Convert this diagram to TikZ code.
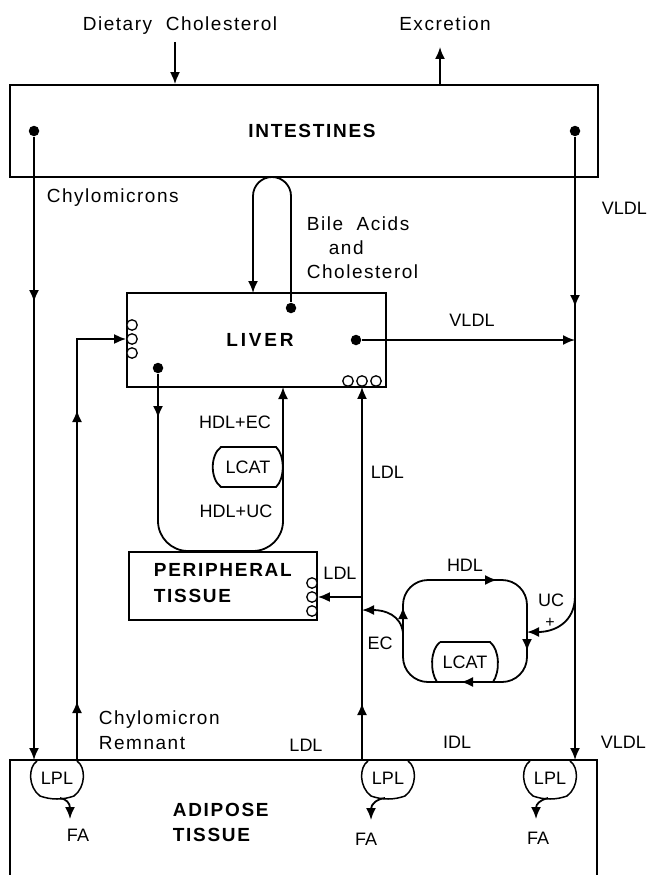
\documentclass[tikz,border=0pt]{standalone}
\usepackage{fontspec}
\setmainfont{Liberation Sans}
\usetikzlibrary{arrows.meta}
\begin{document}
\begin{tikzpicture}[x=1pt,y=-1pt,line width=1.8pt,
  lbl/.style={inner sep=0pt,text height=13.6pt,text depth=0pt,font=\fontsize{19}{22}\selectfont\addfontfeature{LetterSpace=8}},
  sml/.style={inner sep=0pt,text height=12.9pt,text depth=0pt,font=\fontsize{18}{21}\selectfont},
  bld/.style={inner sep=0pt,text height=13.6pt,text depth=0pt,font=\fontsize{19}{22}\selectfont\bfseries\addfontfeature{LetterSpace=9}},
  box/.style={draw,inner sep=0pt},
  dot/.style={circle,fill,inner sep=0pt,minimum size=10.5pt},
  ring/.style={circle,draw,fill=white,inner sep=0pt,minimum size=10.5pt,line width=1.3pt},
  tip/.style={-{Latex[length=12pt,width=10pt]}}]
\useasboundingbox (0,0) rectangle (648,875);
% top labels
\node[lbl] (diet) at (180,24) {Dietary\ \ Cholesterol};
\node[lbl] (excr) at (445,24) {Excretion};
\coordinate (dietS) at (175,42);
\coordinate (excrT) at (440,47);
% intestines
\node[box,minimum width=588pt,minimum height=92pt] (int) at (304,131) {};
\node[bld] (intl) at (312,131) {INTESTINES};
\draw[tip] (dietS) -- (dietS |- int.north);
\draw[tip] (excrT |- int.north) -- (excrT);
\node[dot] (dL) at (34,131) {};
\node[dot] (dR) at (575,131) {};
\coordinate (aL) at (34,760);
\coordinate (aR) at (575,760);
\draw[tip] (dL) -- (aL);
\draw[tip] (34,284) -- (34,302);
\draw[tip] (dR) -- (aR);
\draw[tip] (575,289) -- (575,307);
\node[lbl,anchor=west] (chy) at (46,196) {Chylomicrons};
\node[sml,anchor=west] (vl1) at (601,208) {VLDL};
% bile loop
\node[dot] (dB) at (291,308) {};
\coordinate (bT) at (253,293);
\draw[tip,rounded corners=19pt] (dB) -- (291,177) -- (253,177) -- (bT);
\node[lbl,anchor=west] (bile1) at (306,224) {Bile\ \ Acids};
\node[lbl,anchor=west] (bile2) at (328,248) {and};
\node[lbl,anchor=west] (bile3) at (306,272) {Cholesterol};
% liver
\node[box,minimum width=259pt,minimum height=94pt] (liv) at (256.5,340) {};
\node[bld,font=\fontsize{19}{22}\selectfont\bfseries\addfontfeature{LetterSpace=15}] (livl) at (260,340) {LIVER};
\node[ring] (r1) at (132,325) {};
\node[ring] (r2) at (132,339) {};
\node[ring] (r3) at (132,353) {};
\coordinate (cR) at (77,760);
\draw[tip] (cR) -- (77,339) -- (r2.west);
\draw[tip] (77,428) -- (77,410);
\draw[tip] (77,719) -- (77,701);
\node[dot] (dV) at (356,340) {};
\coordinate (vJ) at (575,340);
\draw[tip] (dV) -- (vJ);
\node[sml] (vl2) at (472,320) {VLDL};
\node[ring] (b1) at (348,381) {};
\node[ring] (b2) at (362,381) {};
\node[ring] (b3) at (376,381) {};
\coordinate (lB) at (362,760);
\draw[tip] (lB) -- (b2.south);
\draw[tip] (362,721) -- (362,703);
\node[sml,anchor=west] (ldl1) at (370,472) {LDL};
% HDL loop left
\node[dot] (dH) at (158,368) {};
\coordinate (hT) at (283,387);
\draw[tip,rounded corners=30pt] (dH) -- (158,551) -- (283,551) -- (hT);
\draw[tip] (158,400) -- (158,418);
\node[sml] (hec) at (235,422) {HDL+EC};
\draw (221,447) -- (276,447) .. controls (285,455) and (285,479) .. (276,487) -- (221,487) .. controls (210,479) and (210,455) .. (221,447) -- cycle;
\node[sml] (lc1) at (248,467) {LCAT};
\node[sml] (huc) at (236,511) {HDL+UC};
% peripheral tissue
\node[box,minimum width=188pt,minimum height=68pt] (per) at (223,586) {};
\node[bld,anchor=west] (per1) at (153,570) {PERIPHERAL};
\node[bld,anchor=west] (per2) at (153,596) {TISSUE};
\node[ring] (p1) at (312,583) {};
\node[ring] (p2) at (312,597) {};
\node[ring] (p3) at (312,611) {};
\coordinate (pJ) at (362,597);
\draw[tip] (pJ) -- (p2.east);
\node[sml] (ldl2) at (340,573) {LDL};
% HDL loop right
\draw[rounded corners=25pt] (403,580) rectangle (527,682);
\draw (440,642) -- (490,642) .. controls (500,650) and (500,672) .. (493,682);
\draw (440,642) .. controls (430,650) and (430,672) .. (437,682);
\node[sml] (lc2) at (465,662) {LCAT};
\draw[tip] (477,580) -- (497,580);
\draw[tip] (527,631) -- (527,651);
\draw[tip] (481,682) -- (461,682);
\draw[tip] (403,627) -- (403,607);
\node[sml] (hdl) at (465,565) {HDL};
\coordinate (ecS) at (403,633);
\coordinate (ecE) at (362,610);
\draw[tip] (ecS) .. controls (401,615) and (385,610) .. (ecE);
\node[sml] (ec) at (380,643) {EC};
\coordinate (ucS) at (575,596);
\coordinate (ucE) at (527,632);
\draw[tip] (ucS) .. controls (575,622) and (555,632) .. (ucE);
\node[sml] (uc) at (551,600) {UC};
\node[sml,text height=9pt,font=\fontsize{16}{18}\selectfont] (plus) at (550,623) {+};
% adipose
\draw (10,875) -- (10,760) -- (597,760) -- (597,875);
\foreach \cx/\nm in {57/la,388/lb,550/lc}{
  \draw[line width=1.5pt] (\cx-20,761) .. controls (\cx-29,767) and (\cx-29,787) .. (\cx-17,796) .. controls (\cx-6,800) and (\cx+6,800) .. (\cx+17,796) .. controls (\cx+29,787) and (\cx+29,767) .. (\cx+20,761);
  \node[sml] (\nm) at (\cx,778) {LPL};
}
\draw[tip] (60,798) .. controls (66,799) and (70,803) .. (70,819);
\draw[tip] (385,798) .. controls (377,799) and (371,804) .. (371,820);
\draw[tip] (548,798) .. controls (540,800) and (536,804) .. (536,819);
\node[sml] (fa1) at (78,835) {FA};
\node[sml] (fa2) at (366,839) {FA};
\node[sml] (fa3) at (538,838) {FA};
\node[bld,anchor=west] (ad1) at (172,810) {ADIPOSE};
\node[bld,anchor=west] (ad2) at (172,835) {TISSUE};
\node[lbl,anchor=west] (cr1) at (98,718) {Chylomicron};
\node[lbl,anchor=west] (cr2) at (98,743) {Remnant};
\node[sml] (ldl3) at (306,745) {LDL};
\node[sml] (idl) at (457,742) {IDL};
\node[sml,anchor=west] (vl3) at (600,742) {VLDL};
\end{tikzpicture}
\end{document}
